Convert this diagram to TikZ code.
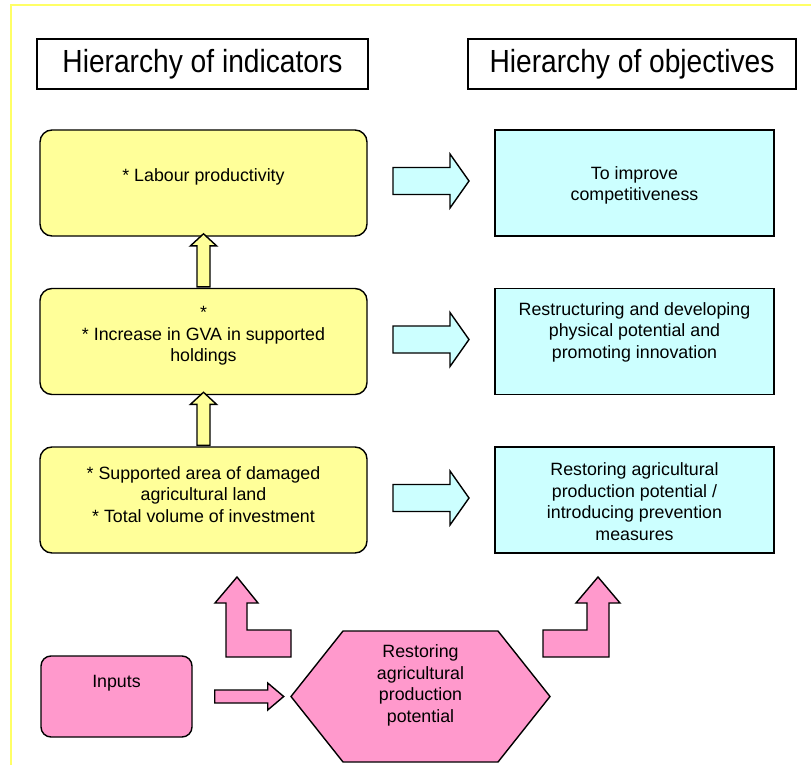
\documentclass[tikz,border=0pt]{standalone}
\usepackage{fontspec}
\setmainfont{Liberation Sans}
\newfontfamily\titlefont[FakeStretch=0.88]{Liberation Sans}
\usetikzlibrary{calc}

\definecolor{paleyellow}{HTML}{FFFF99}
\definecolor{palecyan}{HTML}{CCFFFF}
\definecolor{palepink}{HTML}{FF99CC}
\definecolor{edgeyellow}{HTML}{FFFF66}

\begin{document}
\begin{tikzpicture}[x=1pt, y=-1pt, line width=1.4pt,
        font=\fontsize{17.8}{21.5}\selectfont]
    \tikzstyle{heading} = [rectangle, draw, fill=white, minimum width=331,
        minimum height=50, font=\titlefont\fontsize{32}{36}\selectfont]
    \tikzstyle{indicator} = [rectangle, rounded corners=12, draw, fill=paleyellow,
        minimum width=327, minimum height=106]
    \tikzstyle{objective} = [rectangle, draw, fill=palecyan,
        minimum width=279, minimum height=106]
    \tikzstyle{inputbox} = [rectangle, rounded corners=10, draw, fill=palepink,
        minimum width=151, minimum height=81]
    \tikzstyle{every label} = [align=center]
    \tikzstyle{yellowarrow} = [draw, fill=paleyellow, line join=miter]
    \tikzstyle{cyanarrow} = [draw, fill=palecyan, line join=miter]
    \tikzstyle{pinkarrow} = [draw, fill=palepink, line join=miter]

    \useasboundingbox (0, 0) rectangle (811, 765);
    \draw [edgeyellow, line width=1.2pt] (11, 765) -- (11, 5) -- (811, 5);

    % Headings ------------------------------------------
    \node (hind) at (202.5, 64) [heading] {Hierarchy of indicators};
    \node (hobj) at (632, 64) [heading, minimum width=328] {Hierarchy of objectives};

    % Indicators ----------------------------------------
    \node (ind1) at (203.5, 183) [indicator,
        label={[yshift=6]center:* Labour productivity}] {};
    \node (ind2) at ($(ind1) + (0, 158.5)$) [indicator,
        label={[yshift=5.5]center:*\\* Increase in GVA in supported\\holdings}] {};
    \node (ind3) at ($(ind2) + (0, 158.5)$) [indicator,
        label={[yshift=5.5]center:* Supported area of damaged\\agricultural land\\* Total volume of investment}] {};

    % Objectives ----------------------------------------
    \node (obj1) at ($(ind1) + (431, 0)$) [objective,
        label={[yshift=-2.5]center:To improve\\competitiveness}] {};
    \node (obj2) at ($(ind2) + (431, 0)$) [objective,
        label={[yshift=9.5]center:Restructuring and developing\\physical potential and\\promoting innovation}] {};
    \node (obj3) at ($(ind3) + (431, 0)$) [objective,
        label={[yshift=-1.5]center:Restoring agricultural\\production potential /\\introducing prevention\\measures}] {};

    % Arrows between the levels
    \foreach \s in {2, 3}
        \draw [yellowarrow, shift={(ind\s.north)}] (-6.5, -1) -- (-6.5, -42) -- (-13, -42)
            -- (0, -54) -- (13, -42) -- (6.5, -42) -- (6.5, -1) -- cycle;

    \foreach \r in {1, 2, 3}
        \draw [cyanarrow, shift={($(ind\r.east)!.5!(obj\r.west) + (0, -2)$)}]
            (-38, -13.5) -- (19, -13.5) -- (19, -27) -- (38, 0) -- (19, 27)
            -- (19, 13.5) -- (-38, 13.5) -- cycle;
    % ---------------------------------------------------

    % Inputs and measure
    \node (inputs) at (116.5, 696.5) [inputbox, label={[yshift=13.5]center:Inputs}] {};

    \coordinate (hex) at (420.5, 696.5);
    \draw [pinkarrow, shift={(hex)}] (-129.5, 0) -- (-77.5, -65.5) -- (77.5, -65.5)
        -- (129.5, 0) -- (77.5, 65.5) -- (-77.5, 65.5) -- cycle;
    \node (measure) at ($(hex) + (0, -11)$) [align=center]
        {Restoring\\agricultural\\production\\potential};

    \draw [pinkarrow, shift={(inputs.east)}] (22, -6.5) -- (75, -6.5) -- (75, -13.5)
        -- (91, 0) -- (75, 13.5) -- (75, 6.5) -- (22, 6.5) -- cycle;

    % bent arrows up to both hierarchies
    \draw [pinkarrow] (226, 657) -- (291, 657) -- (291, 630) -- (247, 630) -- (247, 603)
        -- (258, 603) -- (237, 577) -- (215, 603) -- (226, 603) -- cycle;
    \draw [pinkarrow] (543, 630) -- (587, 630) -- (587, 603) -- (576, 603) -- (598, 577)
        -- (620, 603) -- (609, 603) -- (609, 657) -- (543, 657) -- cycle;
\end{tikzpicture}
\end{document}
